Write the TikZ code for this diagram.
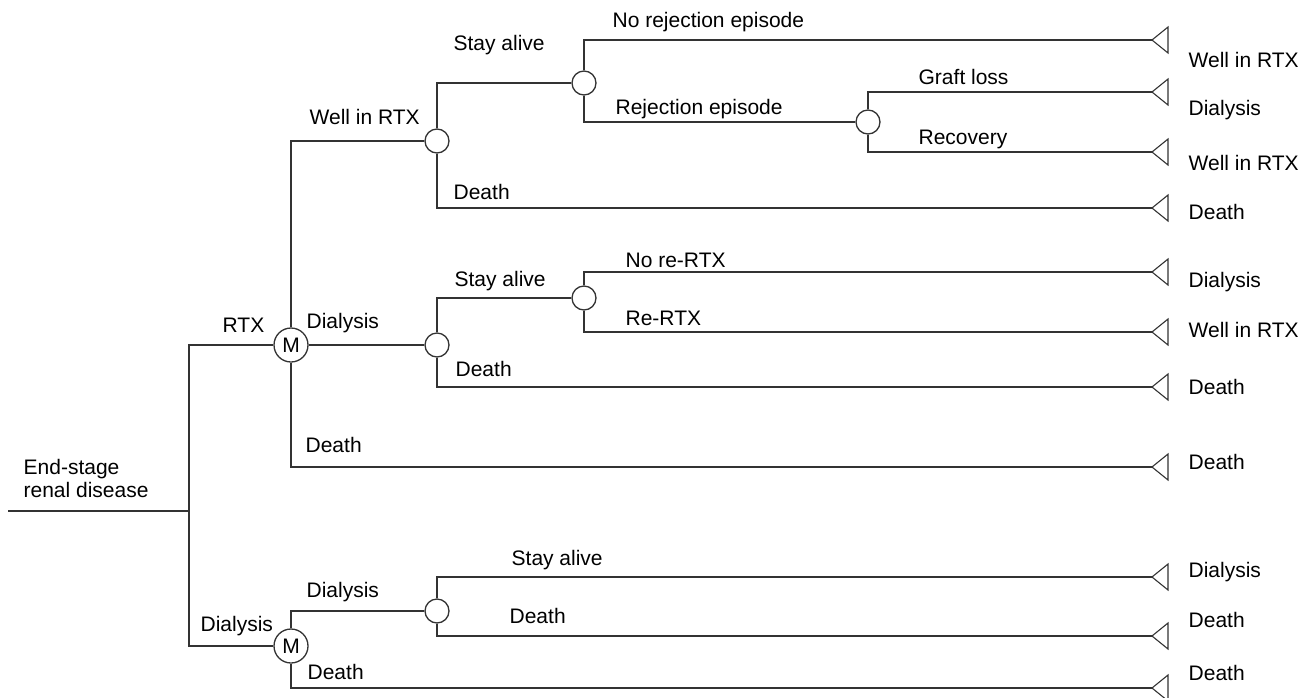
\documentclass[tikz,border=0pt]{standalone}
\usepackage{fontspec}
\setmainfont{Liberation Sans}
\begin{document}
\begin{tikzpicture}[x=1pt,y=-1pt,
  line width=1.3pt, draw=black!80,
  chance/.style={circle,draw,fill=white,minimum size=24pt,inner sep=0pt},
  markov/.style={circle,draw,fill=white,minimum size=34pt,inner sep=0pt,font=\fontsize{21}{24}\selectfont},
  lbl/.style={anchor=base west,inner sep=0pt,font=\fontsize{21}{24}\selectfont},
  term/.style={draw,line width=1.1pt,fill=white}]
\useasboundingbox (0,0) rectangle (1315,697);
% root
\coordinate (root) at (8,511);
\coordinate (j) at (189,511);
% nodes
\node[markov] (m1) at (291,345) {M};
\node[markov] (m2) at (291,646) {M};
\node[chance] (c1) at (437,141) {};
\node[chance] (c2) at (437,345) {};
\node[chance] (c3) at (584,83) {};
\node[chance] (c4) at (868,122) {};
\node[chance] (c5) at (584,298) {};
\node[chance] (c6) at (437,611) {};
% terminal points
\foreach \n/\y in {1/40,2/92,3/152,4/208,5/272,6/332,7/387,8/467,9/577,10/636,11/688}{
  \coordinate (t\n) at (1152,\y);
}
% connectors
\draw (root) -- (j);
\draw (j) |- (m1.west);
\draw (j) |- (m2.west);
\draw (m1.north) |- (c1.west);
\draw (m1.east) -- (c2.west);
\draw (m1.south) |- (t8);
\draw (c1.north) |- (c3.west);
\draw (c1.south) |- (t4);
\draw (c3.north) |- (t1);
\draw (c3.south) |- (c4.west);
\draw (c4.north) |- (t2);
\draw (c4.south) |- (t3);
\draw (c2.north) |- (c5.west);
\draw (c2.south) |- (t7);
\draw (c5.north) |- (t5);
\draw (c5.south) |- (t6);
\draw (m2.north) |- (c6.west);
\draw (m2.south) |- (t11);
\draw (c6.north) |- (t9);
\draw (c6.south) |- (t10);
% terminal triangles
\foreach \n in {1,...,11}{
  \draw[term] (t\n) -- ++(16,-13) -- ++(0,26) -- cycle;
}
% terminal labels
\node[lbl] (e1) at (1188,67.5) {Well in RTX};
\node[lbl] (e2) at (1188,115.5) {Dialysis};
\node[lbl] (e3) at (1188,170.5) {Well in RTX};
\node[lbl] (e4) at (1188,219.5) {Death};
\node[lbl] (e5) at (1188,287.5) {Dialysis};
\node[lbl] (e6) at (1188,337.5) {Well in RTX};
\node[lbl] (e7) at (1188,394.5) {Death};
\node[lbl] (e8) at (1188,469.5) {Death};
\node[lbl] (e9) at (1188,577.5) {Dialysis};
\node[lbl] (e10) at (1188,627.5) {Death};
\node[lbl] (e11) at (1188,680.5) {Death};
% branch labels
\node[lbl] (l1) at (23,474.5) {End-stage};
\node[lbl] (l2) at (23,497.5) {renal disease};
\node[lbl] (l3) at (222,332.5) {RTX};
\node[lbl] (l4) at (200,631.5) {Dialysis};
\node[lbl] (l5) at (309,124.5) {Well in RTX};
\node[lbl] (l6) at (306,328.5) {Dialysis};
\node[lbl] (l7) at (305,452.5) {Death};
\node[lbl] (l8) at (453,50.5) {Stay alive};
\node[lbl] (l9) at (453,199.5) {Death};
\node[lbl] (l10) at (612,27.5) {No rejection episode};
\node[lbl] (l11) at (615,114.5) {Rejection episode};
\node[lbl] (l12) at (918,84.5) {Graft loss};
\node[lbl] (l13) at (918,144.5) {Recovery};
\node[lbl] (l14) at (454,286.5) {Stay alive};
\node[lbl] (l15) at (455,376.5) {Death};
\node[lbl] (l16) at (625,267.5) {No re-RTX};
\node[lbl] (l17) at (625,325.5) {Re-RTX};
\node[lbl] (l18) at (306,597.5) {Dialysis};
\node[lbl] (l19) at (307,679.5) {Death};
\node[lbl] (l20) at (511,565.5) {Stay alive};
\node[lbl] (l21) at (509,623.5) {Death};
\end{tikzpicture}
\end{document}
